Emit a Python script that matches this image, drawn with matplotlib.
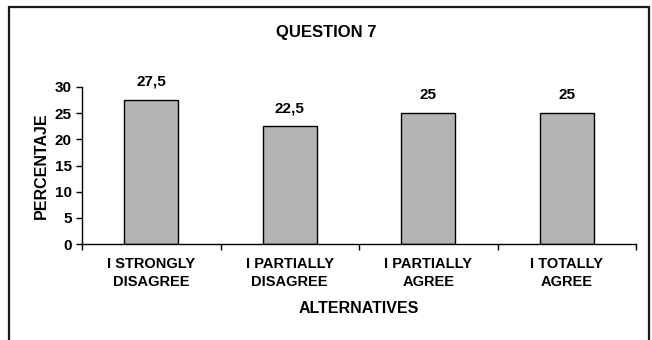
import matplotlib
matplotlib.use("Agg")
import matplotlib.pyplot as plt
from matplotlib.lines import Line2D
import numpy as np

categories = ["I STRONGLY\nDISAGREE", "I PARTIALLY\nDISAGREE", "I PARTIALLY\nAGREE", "I TOTALLY\nAGREE"]
values = [27.5, 22.5, 25, 25]
value_labels = ["27,5", "22,5", "25", "25"]
yticks = [0, 5, 10, 15, 20, 25, 30]

plt.rcParams['font.family'] = ['Liberation Sans', 'DejaVu Sans']
plt.rcParams['font.weight'] = 'bold'

W, H = 652, 340
fig = plt.figure(figsize=(W / 100, H / 100), dpi=100)

# chart-area frame (open at the bottom edge of the image)
fx0, fx1, fy0 = 8.5 / W, 649 / W, 1 - 6.5 / H
fig.lines.append(Line2D([fx0, fx0, fx1, fx1], [0, fy0, fy0, 0], transform=fig.transFigure,
                        color='#1a1a1a', linewidth=1.6, solid_joinstyle='miter'))

ax = fig.add_axes([82 / W, 1 - 244 / H, (636 - 82) / W, (244 - 87) / H])
x = np.arange(len(categories))
ax.bar(x, values, width=0.39, color='#b3b3b3', edgecolor='black', linewidth=1.0)
for xi, v, lab in zip(x, values, value_labels):
    ax.annotate(lab, (xi, v), xytext=(0, 8), textcoords='offset points',
                ha='center', va='bottom', fontsize=11, fontweight='bold')

ax.set_xlim(-0.5, len(categories) - 0.5)
ax.set_ylim(0, 30)
ax.set_yticks(yticks)
ax.tick_params(axis='y', direction='out', length=4, labelsize=11, width=1)
ax.set_xticks(x)
ax.set_xticklabels(categories, fontsize=10.5, fontweight='bold', linespacing=1.4)
ax.tick_params(axis='x', length=0, pad=9)
ax.set_xticks(np.arange(-0.5, len(categories)), minor=True)
ax.tick_params(axis='x', which='minor', direction='out', length=4, width=1)
for lbl in ax.get_yticklabels():
    lbl.set_fontweight('bold')

for s in ['top', 'right']:
    ax.spines[s].set_visible(False)
for s in ['left', 'bottom']:
    ax.spines[s].set_linewidth(1)

ax.set_ylabel("PERCENTAJE", fontsize=11.5, fontweight='bold', labelpad=4)
ax.set_xlabel("ALTERNATIVES", fontsize=11.5, fontweight='bold', labelpad=9)
fig.text(0.5, 1 - 32 / H, "QUESTION 7", ha='center', va='center', fontsize=12, fontweight='bold')

fig.savefig("out.png", dpi=100)
